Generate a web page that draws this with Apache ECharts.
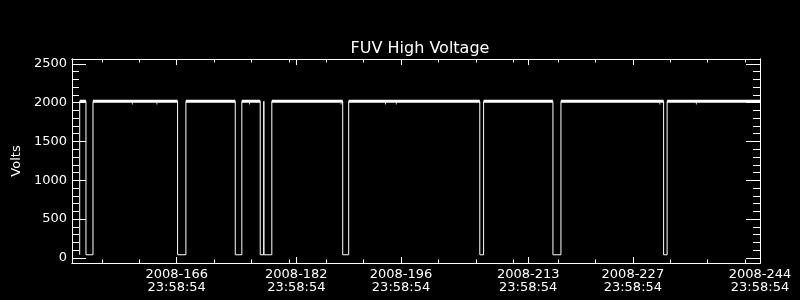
<!DOCTYPE html>
<html><head><meta charset="utf-8">
<script src="https://cdn.jsdelivr.net/npm/echarts@6/dist/echarts.min.js"></script>
<style>html,body{margin:0;padding:0;background:#000}#c{width:800px;height:300px}</style>
</head><body><div id="c"></div>
<script>
// Day-of-year 2008 (offset 23:58:54), and HV in volts
const days = [153.03,153.03,153.87,153.87,154.81,154.81,166.12,166.12,167.23,167.23,173.83,173.83,174.71,174.71,177.17,177.17,177.65,177.65,177.65,178.72,178.72,188.20,188.20,189.00,189.00,206.53,206.53,207.04,207.04,216.31,216.31,217.38,217.38,231.11,231.11,231.58,231.58,244];
const volts = [40,2018,2018,40,40,2018,2018,40,40,2018,2018,40,40,2018,2018,40,40,2018,40,40,2018,2018,40,40,2018,2018,40,40,2018,2018,40,40,2018,2018,40,40,2018,2018];
// small glitches below the nominal level
const glitchDays = [160.07,163.35,175.74,187.99,193.91,195.37,230.60,235.49];
const glitchVolts = [1990,1990,1990,1990,1990,1990,1990,1990];
// axis ticks
const xMajorDays = [166,182,196,213,227,244];
const xMinorDays = [156,161,171,176,181,186,191,201,206,211,217,222,232,237,242];
const yMajor = [0,500,1000,1500,2000,2500];
const yMinor = [];
for (let v = 100; v < 2500; v += 100) if (v % 500) yMinor.push(v);

const main = days.map((d,i)=>[d, volts[i]]);
const band = days.map((d,i)=> volts[i] > 1000 ? [d, volts[i]] : [d, null]);
const glitch = glitchDays.map((d,i)=>[d, glitchVolts[i]]);

const FONT = 'DejaVu Sans';
const XMIN = 152, XMAX = 244, YMIN = -66, YMAX = 2563;
function xAx(pos, vals, len, labels){
  return {type:'value', position:pos, min:XMIN, max:XMAX, splitLine:{show:false},
    axisLine:{show:true, onZero:false, lineStyle:{color:'#fff', width:1}},
    axisTick:{show:true, inside:true, length:len, customValues:vals, lineStyle:{color:'#fff', width:1}},
    axisLabel: labels ? {show:true, customValues:vals, color:'#fff', fontFamily:FONT, fontSize:13, lineHeight:13, margin:5,
      showMinLabel:true, showMaxLabel:true, hideOverlap:false,
      formatter: v => '2008-' + Math.round(v) + '\n23:58:54'} : {show:false}};
}
function yAx(pos, vals, len, labels, name){
  const a = {type:'value', position:pos, min:YMIN, max:YMAX, splitLine:{show:false},
    axisLine:{show:true, onZero:false, lineStyle:{color:'#fff', width:1}},
    axisTick:{show:true, inside:true, length:len, customValues:vals, lineStyle:{color:'#fff', width:1}},
    axisLabel: labels ? {show:true, customValues:vals, color:'#fff', fontFamily:FONT, fontSize:13, margin:5,
      showMinLabel:true, showMaxLabel:true, formatter: v => String(Math.round(v))} : {show:false}};
  if (name) { a.name = name; a.nameLocation='middle'; a.nameGap=45; a.nameRotate=90;
    a.nameTextStyle={color:'#fff', fontFamily:FONT, fontSize:13}; }
  return a;
}
const chart = echarts.init(document.getElementById('c'), null, {renderer:'canvas'});
chart.setOption({
  backgroundColor:'#000',
  animation:false,
  title:{text:'FUV High Voltage', left:415, textAlign:'center', top:36,
    textStyle:{color:'#fff', fontFamily:FONT, fontSize:16, fontWeight:'normal'}},
  grid:{left:72, top:59, width:688, height:204, containLabel:false},
  xAxis:[xAx('bottom', xMajorDays, 6, true), xAx('bottom', xMinorDays, 3.5, false),
         xAx('top', xMajorDays, 6, false), xAx('top', xMinorDays, 3.5, false)],
  yAxis:[yAx('left', yMajor, 14, true, 'Volts'), yAx('left', yMinor, 7, false),
         yAx('right', yMajor, 14, false), yAx('right', yMinor, 7, false)],
  series:[
    {type:'line', data:main, showSymbol:false, lineStyle:{color:'#fff', width:1}, xAxisIndex:0, yAxisIndex:0},
    {type:'line', data:band, showSymbol:false, connectNulls:false, lineStyle:{color:'#fff', width:3}, xAxisIndex:0, yAxisIndex:0},
    {type:'scatter', data:glitch, symbol:'rect', symbolSize:[1,2], itemStyle:{color:'#fff'}, xAxisIndex:0, yAxisIndex:0}
  ]
});
</script></body></html>
